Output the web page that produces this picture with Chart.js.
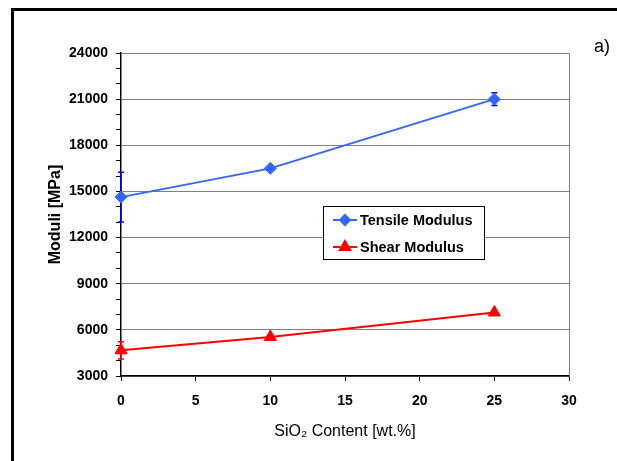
<!DOCTYPE html>
<html>
<head>
<meta charset="utf-8">
<script src="https://cdn.jsdelivr.net/npm/chart.js@4.4.0/dist/chart.umd.min.js"></script>
<style>
  html, body { margin: 0; padding: 0; background: #fff; }
  #wrap { position: relative; width: 617px; height: 461px; }
</style>
</head>
<body>
<div id="wrap"><canvas id="myChart" width="617" height="461"></canvas></div>
<script>
// Data
var siO2 = [0, 10, 25];
var tensile = [14630, 16500, 21000];
var tensileErr = [1620, 0, 420];
var shear = [4670, 5540, 7130];
var shearErr = [560, 0, 0];
var seriesNames = ['Tensile Modulus', 'Shear Modulus'];

var FONT = 'Arial, "Liberation Sans", sans-serif';

function toPoints(xs, ys) {
  var pts = [];
  for (var i = 0; i < xs.length; i++) {
    pts.push({ x: xs[i], y: ys[i] });
  }
  return pts;
}

// error bars drawn with the chart scales
var errorBars = {
  id: 'errorBars',
  beforeDatasetsDraw: function (chart) {
    var c = chart.ctx;
    var xs = chart.scales.x, ys = chart.scales.y;
    // plot frame (grey)
    var a = chart.chartArea;
    c.save();
    c.strokeStyle = '#808080';
    c.lineWidth = 1;
    c.beginPath();
    c.moveTo(a.left, a.top + 0.5);
    c.lineTo(a.right + 0.5, a.top + 0.5);
    c.lineTo(a.right + 0.5, a.bottom);
    c.stroke();
    var sets = [[tensile, tensileErr, '#0000FF'], [shear, shearErr, '#FF0000']];
    for (var s = 0; s < sets.length; s++) {
      var vals = sets[s][0], errs = sets[s][1];
      c.strokeStyle = sets[s][2];
      c.lineWidth = 1.5;
      for (var i = 0; i < siO2.length; i++) {
        if (!errs[i]) continue;
        var px = xs.getPixelForValue(siO2[i]);
        var top = ys.getPixelForValue(vals[i] + errs[i]);
        var bot = ys.getPixelForValue(vals[i] - errs[i]);
        c.beginPath();
        c.moveTo(px, top); c.lineTo(px, bot);
        c.moveTo(px - 3, top); c.lineTo(px + 3, top);
        c.moveTo(px - 3, bot); c.lineTo(px + 3, bot);
        c.stroke();
      }
    }
    c.restore();
  }
};

// legend box inside plot, outer frame and "a)" label
var extras = {
  id: 'extras',
  afterDraw: function (chart) {
    var c = chart.ctx;
    c.save();
    // legend
    c.fillStyle = '#fff';
    c.fillRect(323, 206, 161, 53);
    c.strokeStyle = '#000';
    c.lineWidth = 1;
    c.strokeRect(323.5, 206.5, 161, 53);
    var rows = [220, 247];
    for (var i = 0; i < chart.data.datasets.length; i++) {
      var ds = chart.data.datasets[i];
      var y = rows[i];
      c.strokeStyle = ds.borderColor;
      c.lineWidth = 2;
      c.beginPath();
      c.moveTo(333, y); c.lineTo(357, y);
      c.stroke();
      Chart.helpers.drawPoint(c, {
        pointStyle: ds.pointStyle,
        radius: ds.pointRadius - 1,
        borderWidth: 1
      }, 345, y);
      c.fillStyle = ds.borderColor;
      c.fill();
      c.fillStyle = '#000';
      c.font = 'bold 14.5px ' + FONT;
      c.textAlign = 'left';
      c.textBaseline = 'middle';
      c.fillText(ds.label, 360, y + 1);
    }
    // outer frame
    c.strokeStyle = '#000';
    c.lineWidth = 3;
    c.beginPath();
    c.moveTo(617, 9.5);
    c.lineTo(12.5, 9.5);
    c.lineTo(12.5, 461);
    c.stroke();
    // panel label
    c.fillStyle = '#000';
    c.font = '18px ' + FONT;
    c.textAlign = 'center';
    c.textBaseline = 'middle';
    c.fillText('a)', 602, 47);
    c.restore();
  }
};

var ctx = document.getElementById('myChart');
new Chart(ctx, {
  type: 'line',
  data: {
    datasets: [{
      label: seriesNames[0],
      data: toPoints(siO2, tensile),
      borderColor: '#3366FF',
      backgroundColor: '#3366FF',
      borderWidth: 2,
      pointStyle: 'rectRot',
      pointRadius: 6,
      pointBorderWidth: 1,
      clip: false
    }, {
      label: seriesNames[1],
      data: toPoints(siO2, shear),
      borderColor: '#FF0000',
      backgroundColor: '#FF0000',
      borderWidth: 2,
      pointStyle: 'triangle',
      pointRadius: 7,
      pointBorderWidth: 1,
      clip: false
    }]
  },
  options: {
    responsive: false,
    animation: false,
    layout: { padding: { left: 0, top: 53, right: 48, bottom: 0 } },
    plugins: {
      legend: { display: false },
      tooltip: { enabled: false }
    },
    scales: {
      x: {
        type: 'linear',
        min: 0,
        max: 30,
        afterFit: function (s) { s.height = 85; },
        ticks: {
          stepSize: 5,
          color: '#000',
          padding: 12,
          font: { family: FONT, size: 14, weight: 'bold' }
        },
        grid: { drawOnChartArea: false, tickLength: 5, tickColor: '#000' },
        border: { color: '#000', width: 1.5 },
        title: {
          display: true,
          text: 'SiO₂ Content [wt.%]',
          color: '#000',
          padding: { top: 0, bottom: 20 },
          font: { family: FONT, size: 16 }
        }
      },
      y: {
        min: 3000,
        max: 24000,
        afterFit: function (s) { s.width = 121; },
        ticks: {
          stepSize: 1000,
          autoSkip: false,
          color: '#000',
          padding: 8,
          font: { family: FONT, size: 14, weight: 'bold' },
          callback: function (v) { return v % 3000 === 0 ? v : ''; }
        },
        grid: {
          tickLength: 5,
          tickColor: '#000',
          color: function (c) {
            return (c.tick && c.tick.value % 3000 === 0) ? '#808080' : 'rgba(0,0,0,0)';
          }
        },
        border: { color: '#000', width: 1.5 },
        title: {
          display: true,
          text: 'Moduli [MPa]',
          color: '#000',
          padding: { top: 46, bottom: 0 },
          font: { family: FONT, size: 16, weight: 'bold' }
        }
      }
    }
  },
  plugins: [errorBars, extras]
});
</script>
</body>
</html>
